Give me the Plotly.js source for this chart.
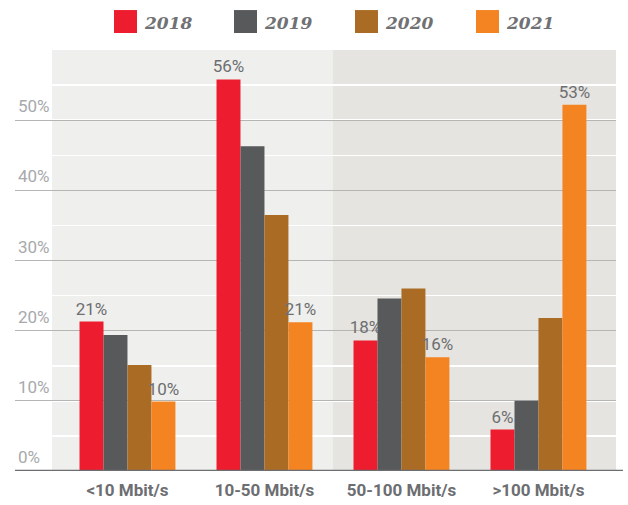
<!DOCTYPE html>
<html>
<head>
<meta charset="utf-8">
<script src="https://cdn.plot.ly/plotly-3.0.1.min.js"></script>
<style>html,body{margin:0;padding:0;background:#fff;}#chart{width:628px;height:505px;}</style>
</head>
<body>
<div id="chart"></div>
<script>
const categories = ["<10 Mbit/s", "10-50 Mbit/s", "50-100 Mbit/s", ">100 Mbit/s"];
const seriesNames = ["2018", "2019", "2020", "2021"];
const v2018 = [21.3, 55.8, 18.6, 5.9];
const v2019 = [19.4, 46.3, 24.6, 10.0];
const v2020 = [15.1, 36.5, 26.0, 21.8];
const v2021 = [9.9, 21.2, 16.2, 52.2];
const labels2018 = ["21%", "56%", "18%", "6%"];
const labels2021 = ["10%", "21%", "16%", "53%"];
const yTickVals = [0, 10, 20, 30, 40, 50];
const yTickText = ["0%", "10%", "20%", "30%", "40%", "50%"];
const colors = ["#ed1c2e", "#58595b", "#aa6c25", "#f48421"];

const W = 628, H = 505;
const M = {l: 15, r: 12, t: 50, b: 33.5};
const pw = W - M.l - M.r, ph = H - M.t - M.b;
const px2x = p => (p - M.l) / pw;
const px2y = p => (H - M.b - p) / ph;

const values = [v2018, v2019, v2020, v2021];
const texts = [labels2018, ["", "", "", ""], ["", "", "", ""], labels2021];

const traces = seriesNames.map((n, i) => ({
  type: "bar",
  name: n,
  x: categories,
  y: values[i],
  marker: {color: colors[i], line: {width: 0}},
  text: texts[i],
  textposition: "outside",
  constraintext: "none",
  textfont: {family: "Roboto", size: 17, color: "#6d6e71"},
  cliponaxis: false,
  hoverinfo: "none"
}));

const shapes = [
  {type: "rect", layer: "below", xref: "x", yref: "paper", x0: -0.551, x1: 1.5, y0: 0, y1: 1,
   fillcolor: "#eff0ed", line: {width: 0}},
  {type: "rect", layer: "below", xref: "x", yref: "paper", x0: 1.5, x1: 3.566, y0: 0, y1: 1,
   fillcolor: "#e5e4e0", line: {width: 0}},
  {type: "line", layer: "above", xref: "paper", yref: "y", x0: 0, x1: px2x(623), y0: 0, y1: 0,
   line: {color: "#6d6e71", width: 2.5}}
];
const annotations = [];
const legendX = [114, 234, 355, 476];
seriesNames.forEach((n, i) => {
  shapes.push({type: "rect", xref: "paper", yref: "paper",
    x0: px2x(legendX[i]), x1: px2x(legendX[i] + 23), y0: px2y(33), y1: px2y(10),
    fillcolor: colors[i], line: {width: 0}});
  annotations.push({xref: "paper", yref: "paper", x: px2x(legendX[i] + 28), y: px2y(22.5),
    xanchor: "left", yanchor: "middle", showarrow: false, text: "<b><i>" + n + "</i></b>",
    font: {family: "DejaVu Serif", size: 17, color: "#707174"}});
});

const layout = {
  width: W, height: H,
  margin: M,
  paper_bgcolor: "#ffffff",
  plot_bgcolor: "rgba(0,0,0,0)",
  showlegend: false,
  barmode: "group",
  bargap: 0.3,
  bargroupgap: 0,
  xaxis: {
    type: "category",
    range: [-0.821, 3.566],
    showgrid: false, zeroline: false, showline: false, ticks: "",
    ticklabelstandoff: 7,
    tickfont: {family: "Roboto", size: 17, color: "#6d6e71", weight: "bold"}
  },
  yaxis: {
    range: [0, 60],
    tickvals: yTickVals,
    ticktext: yTickText,
    ticklabelposition: "inside top",
    ticklabelshift: -2,
    tickfont: {family: "Roboto", size: 17, color: "#a7a9ac"},
    showgrid: true, gridcolor: "#b5b5b3", gridwidth: 1.2,
    zeroline: false, showline: false, ticks: "",
    minor: {dtick: 5, showgrid: true, gridcolor: "#ffffff", gridwidth: 1.5}
  },
  shapes: shapes,
  annotations: annotations,
  font: {family: "Roboto"}
};

Plotly.newPlot("chart", traces, layout, {displayModeBar: false, staticPlot: true});
</script>
</body>
</html>
